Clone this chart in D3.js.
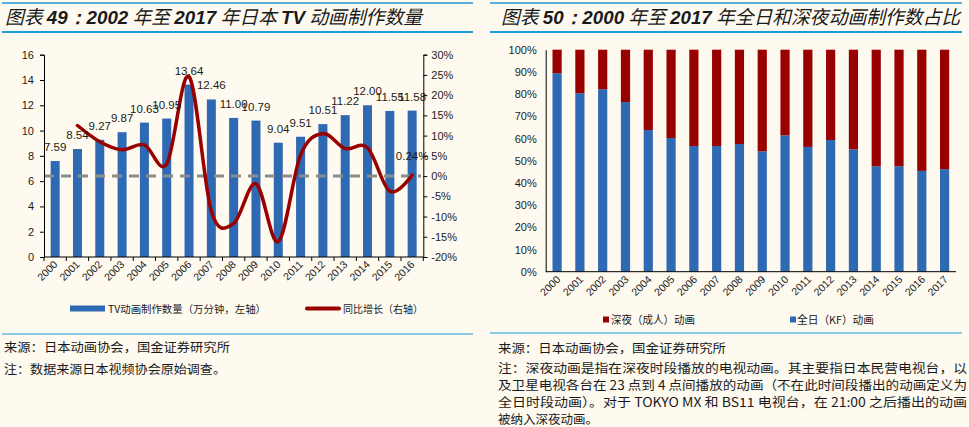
<!DOCTYPE html>
<html><head><meta charset="utf-8">
<script src="https://cdn.jsdelivr.net/npm/d3@7"></script>
<style>
html,body{margin:0;padding:0;background:#FFFAF0;}
svg{display:block;}
text{font-family:"Liberation Sans",Arial,sans-serif;fill:#1a1a1a;}
.cjk{font-family:"Noto Sans CJK SC","Liberation Sans",sans-serif;}
</style></head>
<body>
<svg id="c" width="969" height="427"></svg>
<script>
// ---------- data ----------
const yearsA = ["2000","2001","2002","2003","2004","2005","2006","2007","2008","2009","2010","2011","2012","2013","2014","2015","2016"];
const minutesA = [7.59,8.54,9.27,9.87,10.63,10.95,13.64,12.46,11.00,10.79,9.04,9.51,10.51,11.22,12.00,11.55,11.58];
const growthA = [null,12.5,8.5,6.5,7.7,3.0,24.6,-8.7,-11.7,-1.9,-16.2,5.2,10.5,6.8,7.0,-3.75,0.24];
const leftTicksA = [0,2,4,6,8,10,12,14,16];
const rightTicksA = [-20,-15,-10,-5,0,5,10,15,20,25,30];

const yearsB = ["2000","2001","2002","2003","2004","2005","2006","2007","2008","2009","2010","2011","2012","2013","2014","2015","2016","2017"];
const allDayB = [89.4,80.4,82.2,76.4,63.8,60.2,56.6,56.6,57.5,54.2,61.4,56.2,59.3,55.1,47.5,47.5,45.4,46.2];
const lateNightB = allDayB.map(v => 100 - v);
const ticksB = [0,10,20,30,40,50,60,70,80,90,100];

const BLUE = "#2E69B3", RED = "#990000", TITLE_LINE = "#1E9AD6";
const svg = d3.select("#c");

// ---------- frames ----------
function frame(x0, x1, titleParts, sepY) {
  svg.append("line").attr("x1",x0).attr("x2",x1).attr("y1",3).attr("y2",3).attr("stroke",TITLE_LINE).attr("stroke-width",1.6);
  svg.append("line").attr("x1",x0).attr("x2",x1).attr("y1",32).attr("y2",32).attr("stroke",TITLE_LINE).attr("stroke-width",2.2);
  svg.append("line").attr("x1",x0).attr("x2",x1).attr("y1",sepY).attr("y2",sepY).attr("stroke",TITLE_LINE).attr("stroke-width",1.2);
  const t = svg.append("text").attr("x", titleParts.x).attr("y",24).attr("font-style","italic").attr("font-size",19)
    .attr("textLength", titleParts.len).attr("lengthAdjust","spacingAndGlyphs");
  titleParts.parts.forEach(p => {
    t.append("tspan").text(p[0])
      .attr("font-family", p[1] ? '"Liberation Sans",Arial,sans-serif' : '"Noto Sans CJK SC",sans-serif')
      .attr("font-weight", p[1] ? "bold" : "normal");
  });
}
frame(2, 473, {x:5, len:417, parts:[["图表 ",0],["49：2002",1],[" 年至 ",0],["2017",1],[" 年日本 ",0],["TV",1],[" 动画制作数量",0]]}, 334);
frame(490, 962, {x:501, len:459, parts:[["图表 ",0],["50：2000",1],[" 年至 ",0],["2017",1],[" 年全日和深夜动画制作数占比",0]]}, 333);

// ---------- left chart ----------
const xAfull = d3.scaleBand().domain(yearsA).range([44,423.3]);
const yL = d3.scaleLinear().domain([0,16]).range([257,54.7]);
const yR = d3.scaleLinear().domain([-20,30]).range([257,54.7]);

const gA = svg.append("g");
gA.selectAll("rect.bar").data(yearsA).join("rect").attr("class","bar")
  .attr("x", d => xAfull(d) + xAfull.bandwidth()/2 - 4.5).attr("width", 9)
  .attr("y", (d,i) => yL(minutesA[i])).attr("height", (d,i) => yL(0) - yL(minutesA[i]))
  .attr("fill", BLUE);

// dashed zero line
gA.append("line").attr("x1",44).attr("x2",421).attr("y1",yR(0)).attr("y2",yR(0))
  .attr("stroke","#8C8C8C").attr("stroke-width",3).attr("stroke-dasharray","10,7");

// growth line
const pts = yearsA.map((d,i) => [xAfull(d)+xAfull.bandwidth()/2, growthA[i]]).filter(p => p[1] !== null);
gA.append("path").attr("d", d3.line().x(p=>p[0]).y(p=>yR(p[1])).curve(d3.curveCatmullRom.alpha(0))(pts))
  .attr("fill","none").attr("stroke",RED).attr("stroke-width",3.5).attr("stroke-linecap","round");

// value labels
gA.selectAll("text.val").data(yearsA).join("text").attr("class","val")
  .attr("x", d => xAfull(d)+xAfull.bandwidth()/2).attr("y", (d,i) => yL(minutesA[i]) - 10)
  .attr("text-anchor","middle").attr("font-size",11.5).text((d,i) => minutesA[i].toFixed(2));
gA.append("text").attr("x", xAfull("2016")+xAfull.bandwidth()/2).attr("y", yR(growthA[16]) - 15)
  .attr("text-anchor","middle").attr("font-size",11.5).text(growthA[16].toFixed(2)+"%");

// axes
const axL = d3.axisLeft(yL).tickValues(leftTicksA).tickSize(4).tickPadding(6);
const axR = d3.axisRight(yR).tickValues(rightTicksA).tickSize(4).tickPadding(4).tickFormat(d => d+"%");
const gl = gA.append("g").attr("transform","translate(44,0)").call(axL);
const gr = gA.append("g").attr("transform","translate(423.3,0)").call(axR);
const gx = gA.append("g").attr("transform","translate(0,257)");
gx.append("line").attr("x1",44).attr("x2",423.3).attr("stroke","#000");
gx.selectAll("line.tk").data(d3.range(yearsA.length+1)).join("line").attr("class","tk")
  .attr("x1", i => 44 + i*xAfull.step()).attr("x2", i => 44 + i*xAfull.step()).attr("y1",0).attr("y2",4).attr("stroke","#000");
gx.selectAll("text").data(yearsA).join("text")
  .attr("transform", d => `translate(${xAfull(d)+xAfull.bandwidth()/2+3},${8}) rotate(-45)`)
  .attr("text-anchor","end").attr("font-size",10.5).text(d => d);
[gl,gr].forEach(g => { g.select(".domain").attr("stroke","#000"); g.selectAll(".tick line").attr("stroke","#000");
  g.selectAll(".tick text").attr("font-size",11).attr("font-family",'"Liberation Sans",Arial,sans-serif').attr("fill","#1a1a1a"); });

// legend left
gA.append("rect").attr("x",70).attr("y",305.5).attr("width",35).attr("height",6).attr("fill",BLUE);
gA.append("text").attr("class","cjk").attr("x",108).attr("y",312.5).attr("font-size",10.5).attr("textLength",158).attr("lengthAdjust","spacingAndGlyphs").text("TV动画制作数量（万分钟，左轴）");
gA.append("line").attr("x1",307).attr("x2",339).attr("y1",308.5).attr("y2",308.5).attr("stroke",RED).attr("stroke-width",4).attr("stroke-linecap","round");
gA.append("text").attr("class","cjk").attr("x",343).attr("y",312.5).attr("font-size",10.5).attr("textLength",80).attr("lengthAdjust","spacingAndGlyphs").text("同比增长（右轴）");

// notes left
svg.append("text").attr("class","cjk").attr("x",4).attr("y",352).attr("font-size",12.5).attr("textLength",226).attr("lengthAdjust","spacingAndGlyphs").text("来源：日本动画协会，国金证券研究所");
svg.append("text").attr("class","cjk").attr("x",4).attr("y",374).attr("font-size",12.5).attr("textLength",222).attr("lengthAdjust","spacingAndGlyphs").text("注：数据来源日本视频协会原始调查。");

// ---------- right chart ----------
const xB = d3.scaleBand().domain(yearsB).range([545.7,956]);
const yB = d3.scaleLinear().domain([0,100]).range([271.7,49.7]);
const gB = svg.append("g");
const stackData = yearsB.map((d,i) => ({year:d, allDay:allDayB[i], lateNight:lateNightB[i]}));
const series = d3.stack().keys(["allDay","lateNight"])(stackData);
const colorB = {allDay:BLUE, lateNight:RED};
gB.selectAll("g.s").data(series).join("g").attr("class","s").attr("fill", s => colorB[s.key])
  .selectAll("rect").data(s => s).join("rect")
  .attr("x", d => xB(d.data.year) + xB.bandwidth()/2 - 4.6).attr("width", 9.2)
  .attr("y", d => yB(d[1])).attr("height", d => yB(d[0]) - yB(d[1]));

const axB = d3.axisLeft(yB).tickValues(ticksB).tickSize(0).tickPadding(9).tickFormat(d => d+"%");
const gby = gB.append("g").attr("transform","translate(545.7,0)").call(axB);
gby.select(".domain").attr("stroke","#000");
gby.selectAll(".tick text").attr("font-size",11).attr("font-family",'"Liberation Sans",Arial,sans-serif').attr("fill","#1a1a1a");
gB.append("line").attr("x1",545.7).attr("x2",956).attr("y1",271.7).attr("y2",271.7).attr("stroke","#000");
gB.selectAll("text.xl").data(yearsB).join("text").attr("class","xl")
  .attr("transform", d => `translate(${xB(d)+xB.bandwidth()/2+4},${280}) rotate(-45)`)
  .attr("text-anchor","end").attr("font-size",10.5).text(d => d);

// legend right
gB.append("rect").attr("x",603).attr("y",316.5).attr("width",6).attr("height",6).attr("fill",RED);
gB.append("text").attr("class","cjk").attr("x",611).attr("y",323.5).attr("font-size",11).attr("textLength",84).attr("lengthAdjust","spacingAndGlyphs").text("深夜（成人）动画");
gB.append("rect").attr("x",790).attr("y",316.5).attr("width",6).attr("height",6).attr("fill",BLUE);
gB.append("text").attr("class","cjk").attr("x",797).attr("y",323.5).attr("font-size",11).attr("textLength",77).attr("lengthAdjust","spacingAndGlyphs").text("全日（KF）动画");

// notes right
svg.append("text").attr("class","cjk").attr("x",498).attr("y",353).attr("font-size",12.5).attr("textLength",228).attr("lengthAdjust","spacingAndGlyphs").text("来源：日本动画协会，国金证券研究所");
const noteLines = [
  ["注：深夜动画是指在深夜时段播放的电视动画。其主要指日本民营电视台，以",372.5,469],
  ["及卫星电视各台在 23 点到 4 点间播放的动画（不在此时间段播出的动画定义为",390,469],
  ["全日时段动画）。对于 TOKYO MX 和 BS11 电视台，在 21:00 之后播出的动画",407,469],
  ["被纳入深夜动画。",423.5,null]
];
noteLines.forEach(l => {
  const t = svg.append("text").attr("class","cjk").attr("x",498).attr("y",l[1]).attr("font-size",12.5).text(l[0]);
  if (l[2]) t.attr("textLength",l[2]).attr("lengthAdjust","spacingAndGlyphs");
});
</script>
</body></html>
